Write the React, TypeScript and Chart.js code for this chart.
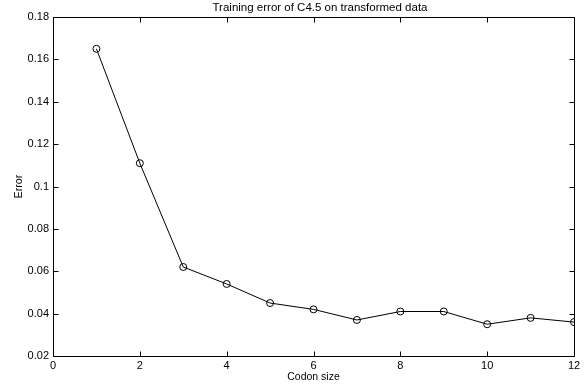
import React, { useEffect, useRef } from "react";
import { Chart, registerables } from "chart.js";

Chart.register(...registerables);

const codonSizes = [1, 2, 3, 4, 5, 6, 7, 8, 9, 10, 11, 12];
const errorValues = [0.165, 0.111, 0.062, 0.054, 0.045, 0.042, 0.037, 0.041, 0.041, 0.035, 0.038, 0.036];
const xTickValues = [0, 2, 4, 6, 8, 10, 12];
const yTickLabels: Record<string, string> = {
  "0.02": "0.02", "0.04": "0.04", "0.06": "0.06", "0.08": "0.08", "0.1": "0.1",
  "0.12": "0.12", "0.14": "0.14", "0.16": "0.16", "0.18": "0.18",
};
const titleText = "Training error of C4.5 on transformed data";
const xLabel = "Codon size";
const yLabel = "Error";

const FONT = "Liberation Sans, Arial, Helvetica, sans-serif";

const boxPlugin = {
  id: "matlabBox",
  afterLayout(chart: any) {
    const tb = chart.titleBlock;
    if (tb) {
      tb.left = chart.chartArea.left + 13;
      tb.right = chart.chartArea.right;
    }
  },
  afterDraw(chart: any) {
    const { ctx, chartArea } = chart;
    const { left, right, top, bottom } = chartArea;
    const xs = chart.scales.x;
    const ys = chart.scales.y;
    const L = Math.round(left) + 0.5;
    const R = Math.round(right) + 0.5;
    const T = Math.round(top) + 0.5;
    const B = Math.round(bottom) + 0.5;
    const tl = 5;
    ctx.save();
    ctx.strokeStyle = "#000";
    ctx.lineWidth = 1;
    ctx.beginPath();
    ctx.rect(L, T, R - L, B - T);
    xs.ticks.forEach((t: any) => {
      const px = Math.round(xs.getPixelForValue(t.value)) + 0.5;
      ctx.moveTo(px, B);
      ctx.lineTo(px, B - tl);
      ctx.moveTo(px, T);
      ctx.lineTo(px, T + tl);
    });
    ys.ticks.forEach((t: any) => {
      const py = Math.round(ys.getPixelForValue(t.value)) + 0.5;
      ctx.moveTo(L, py);
      ctx.lineTo(L + tl, py);
      ctx.moveTo(R, py);
      ctx.lineTo(R - tl, py);
    });
    ctx.stroke();
    ctx.restore();
  },
};

export default function App() {
  const ref = useRef<HTMLCanvasElement | null>(null);
  useEffect(() => {
    document.body.style.margin = "0";
    const canvas = ref.current;
    if (!canvas) return;
    const chart = new Chart(canvas, {
      type: "line",
      data: {
        datasets: [
          {
            data: codonSizes.map((x, i) => ({ x, y: errorValues[i] })),
            borderColor: "#000",
            borderWidth: 1,
            backgroundColor: "rgba(0,0,0,0)",
            pointStyle: "circle",
            pointRadius: 3.5,
            pointBorderWidth: 1,
            pointBorderColor: "#000",
            pointBackgroundColor: "rgba(0,0,0,0)",
            tension: 0,
            fill: false,
          },
        ],
      },
      plugins: [boxPlugin],
      options: {
        responsive: false,
        animation: false,
        events: [],
        layout: { padding: { left: 0, right: 12, top: 0, bottom: 0 } },
        plugins: {
          legend: { display: false },
          tooltip: { enabled: false },
          title: {
            display: true,
            text: titleText,
            color: "#000",
            font: { family: FONT, size: 11.5, weight: "normal" },
            padding: { top: 1, bottom: 2.2 },
          },
        },
        scales: {
          x: {
            type: "linear",
            min: 0,
            max: 12,
            afterFit: (s: any) => { s.height = 31; },
            afterBuildTicks: (s: any) => { s.ticks = xTickValues.map((v) => ({ value: v })); },
            grid: { display: false, drawTicks: false, tickLength: 0 },
            border: { display: false },
            ticks: {
              color: "#000",
              padding: 3,
              font: { family: FONT, size: 11 },
              maxRotation: 0,
              callback: (v: any) => String(v),
            },
            title: {
              display: true,
              text: xLabel,
              color: "#000",
              font: { family: FONT, size: 10.5 },
              padding: { top: 0, bottom: 4 },
            },
          },
          y: {
            type: "linear",
            min: 0.02,
            max: 0.18,
            afterFit: (s: any) => { s.width = 53; },
            afterBuildTicks: (s: any) => {
              s.ticks = Object.keys(yTickLabels).map((k) => ({ value: parseFloat(k) }));
            },
            grid: { display: false, drawTicks: false, tickLength: 0 },
            border: { display: false },
            ticks: {
              color: "#000",
              padding: 4,
              font: { family: FONT, size: 11 },
              callback: (v: any) => yTickLabels[String(parseFloat(Number(v).toFixed(2)))] ?? String(v),
            },
            title: {
              display: true,
              text: yLabel,
              color: "#000",
              font: { family: FONT, size: 10.5 },
              padding: { top: 13, bottom: 0 },
            },
          },
        },
      },
    } as any);
    return () => chart.destroy();
  }, []);
  return (
    <div style={{ position: "fixed", left: 0, top: 0, width: 586, height: 387, background: "#fff" }}>
      <canvas ref={ref} width={586} height={387} style={{ width: 586, height: 387, display: "block" }} />
    </div>
  );
}
